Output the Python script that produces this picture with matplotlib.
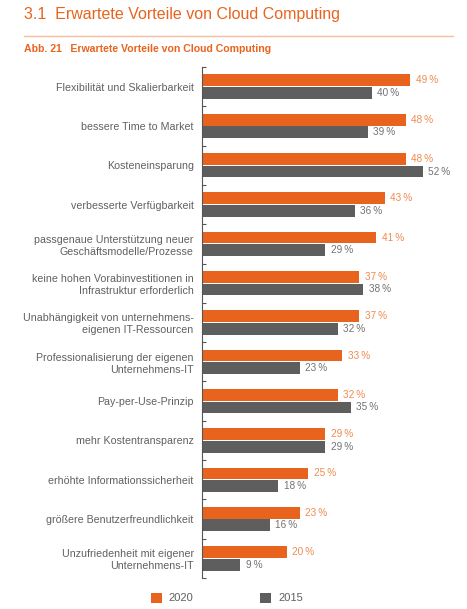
import matplotlib.pyplot as plt
from matplotlib.lines import Line2D
import numpy as np

plt.rcParams["font.family"] = ["Liberation Sans", "DejaVu Sans"]

CATEGORIES = [
    "Flexibilität und Skalierbarkeit",
    "bessere Time to Market",
    "Kosteneinsparung",
    "verbesserte Verfügbarkeit",
    "passgenaue Unterstützung neuer\nGeschäftsmodelle/Prozesse",
    "keine hohen Vorabinvestitionen in\nInfrastruktur erforderlich",
    "Unabhängigkeit von unternehmens-\neigenen IT-Ressourcen",
    "Professionalisierung der eigenen\nUnternehmens-IT",
    "Pay-per-Use-Prinzip",
    "mehr Kostentransparenz",
    "erhöhte Informationssicherheit",
    "größere Benutzerfreundlichkeit",
    "Unzufriedenheit mit eigener\nUnternehmens-IT",
]
VALUES_2020 = [49, 48, 48, 43, 41, 37, 37, 33, 32, 29, 25, 23, 20]
VALUES_2015 = [40, 39, 52, 36, 29, 38, 32, 23, 35, 29, 18, 16, 9]
SERIES = ["2020", "2015"]

ORANGE = "#E8641E"
ORANGE_TEXT = "#F08A50"
GREY = "#5E5E5E"
GREY_TEXT = "#727272"
LABEL_TEXT = "#606060"

W, H = 467, 609
fig = plt.figure(figsize=(W / 100, H / 100), dpi=100)

# header
fig.text(24 / W, 1 - 15 / H, "3.1  Erwartete Vorteile von Cloud Computing",
         color=ORANGE, fontsize=11.5, va="center", ha="left")
fig.add_artist(Line2D([24 / W, 453 / W], [1 - 36 / H, 1 - 36 / H],
                      color="#F6BE9E", lw=1.0, transform=fig.transFigure))
fig.text(24 / W, 1 - 49 / H, "Abb. 21   Erwartete Vorteile von Cloud Computing",
         color=ORANGE, fontsize=7.6, fontweight="bold", va="center", ha="left")

ax_left, ax_top, ax_bottom = 202, 67, 578
x_max = 60
ax_width = x_max * 4.245
ax = fig.add_axes([ax_left / W, 1 - ax_bottom / H, ax_width / W,
                   (ax_bottom - ax_top) / H])

y = np.arange(len(CATEGORIES))
bar_h = 0.3
offset = 0.16
bars_2020 = ax.barh(y - offset, VALUES_2020, height=bar_h, color=ORANGE,
                    label=SERIES[0])
bars_2015 = ax.barh(y + offset, VALUES_2015, height=bar_h, color=GREY,
                    label=SERIES[1])

for yi, v in zip(y, VALUES_2020):
    ax.text(v + 1.3, yi - offset, f"{v}\u2009%", color=ORANGE_TEXT,
            fontsize=7.2, va="center", ha="left")
for yi, v in zip(y, VALUES_2015):
    ax.text(v + 1.3, yi + offset, f"{v}\u2009%", color=GREY_TEXT,
            fontsize=7.2, va="center", ha="left")

ax.set_xlim(0, x_max)
ax.set_ylim(len(CATEGORIES) - 0.5, -0.5)
ax.set_yticks(y)
ax.set_yticklabels(CATEGORIES, fontsize=7.7, color=LABEL_TEXT,
                   linespacing=1.25)
ax.tick_params(axis="y", which="major", length=0, pad=6)
ax.set_yticks(np.arange(-0.5, len(CATEGORIES), 1), minor=True)
ax.tick_params(axis="y", which="minor", direction="in", length=3,
               width=0.8, color="#555555")
ax.set_xticks([])
for side in ["top", "right", "bottom"]:
    ax.spines[side].set_visible(False)
ax.spines["left"].set_color("#555555")
ax.spines["left"].set_linewidth(0.8)

fig.legend(handles=[bars_2020, bars_2015], labels=SERIES, loc="center left",
           bbox_to_anchor=(141 / W, 1 - 598 / H), ncol=2, frameon=False,
           fontsize=8, handlelength=1.0, handleheight=1.0,
           handletextpad=0.6, columnspacing=6.0, labelcolor=LABEL_TEXT)

fig.savefig("out.png", dpi=100)
